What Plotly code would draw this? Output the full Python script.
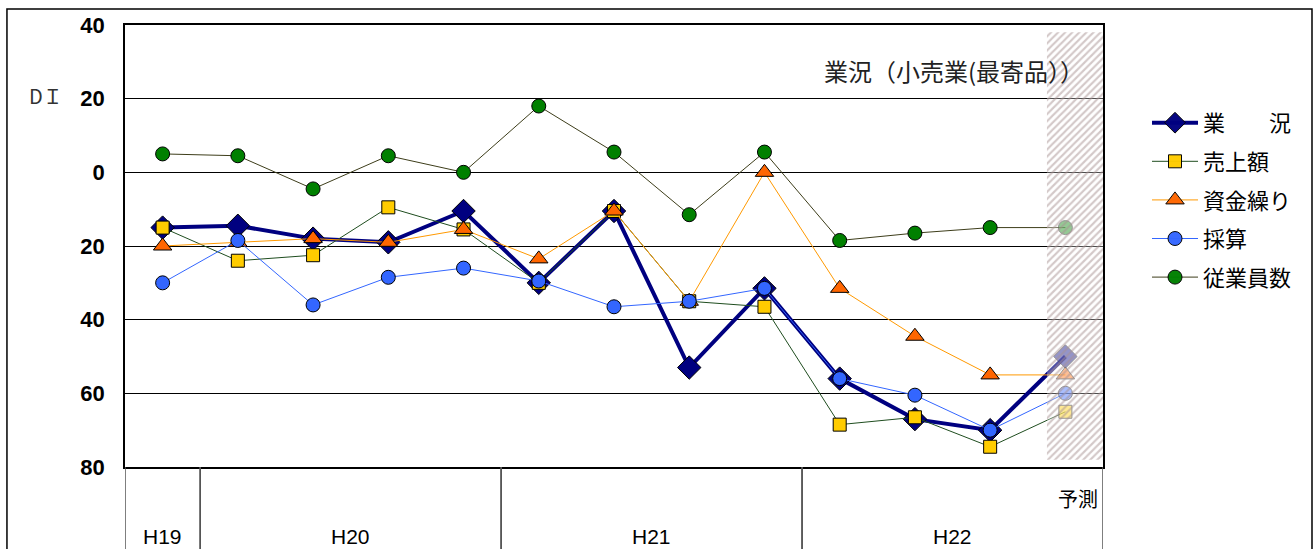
import plotly.graph_objects as go

# ---- data ----
quarters = ["H19-4", "H20-1", "H20-2", "H20-3", "H20-4", "H21-1", "H21-2", "H21-3", "H21-4",
            "H22-1", "H22-2", "H22-3", "予測"]
years = ["H19", "H20", "H21", "H22"]
year_spans = [(0, 0), (1, 4), (5, 8), (9, 12)]

gyokyo = [-15, -14.5, -18, -19, -10.5, -30, -10.5, -53, -31.5, -56, -67, -70, -50]
uriage = [-15, -24, -22.5, -9.5, -15.5, -30, -10.5, -35, -36.5, -68.5, -66.5, -74.5, -65]
shikin = [-20, -19, -18, -19, -15.5, -23.5, -10.5, -35, 0, -31.5, -44.5, -55, -55]
saisan = [-30, -18.5, -36, -28.5, -26, -29.5, -36.5, -35, -31.5, -56, -60.5, -70, -60]
jugyoin = [5, 4.5, -4.5, 4.5, 0, 18, 5.5, -11.5, 5.5, -18.5, -16.5, -15, -15]

tick_vals = [40, 20, 0, -20, -40, -60, -80]
tick_text = ["40", "20", "0", "20", "40", "60", "80"]

series = [
    ("業　　況", gyokyo, "#000080", 4, "diamond", "#000080", 18),
    ("売上額", uriage, "#1f4d1f", 1, "square", "#FFCC00", 13),
    ("資金繰り", shikin, "#FF9900", 1, "triangle-up", "#FF6600", 16),
    ("採算", saisan, "#3366FF", 1, "circle", "#3366FF", 14),
    ("従業員数", jugyoin, "#3d3d1a", 1, "circle", "#008000", 14),
]

fig = go.Figure()
n = len(quarters)
for name, vals, lc, lw, sym, mc, ms in series:
    fig.add_trace(go.Scatter(
        x=quarters, y=vals, name=name, mode="lines+markers",
        line=dict(color=lc, width=lw),
        marker=dict(symbol=sym, color=mc, size=ms,
                    opacity=[1] * (n - 1) + [0.6],
                    line=dict(color="black", width=1)),
        legendgroup=name,
    ))

# forecast hatched band (overlay axis so it is drawn over the lines)
fig.add_trace(go.Bar(
    x=[quarters[-1]], y=[116], base=[-78], width=0.75, offset=-0.245,
    xaxis="x2", yaxis="y2", showlegend=False, hoverinfo="skip",
    marker=dict(color="rgba(255,255,255,0.3)", line=dict(width=0),
                pattern=dict(shape="/", fgcolor="#a89292", bgcolor="rgba(255,255,255,0.3)",
                             size=5, solidity=0.42, fillmode="overlay")),
))

yr = [-80, 40]
fig.update_layout(
    width=1315, height=549,
    margin=dict(l=125, r=212, t=25, b=82),
    paper_bgcolor="white", plot_bgcolor="white",
    font=dict(family="Noto Sans CJK JP, Liberation Sans", color="black"),
    showlegend=True,
    legend=dict(x=1.045, y=0.826, xanchor="left", yanchor="top", itemwidth=46,
                font=dict(size=22, family="Noto Sans CJK JP"),
                tracegroupgap=7, bgcolor="rgba(0,0,0,0)"),
    xaxis=dict(type="category", categoryorder="array", categoryarray=quarters,
               range=[-0.5, n - 0.5], showticklabels=False, ticks="",
               showgrid=False, showline=True, linecolor="black", linewidth=1.5, mirror=True,
               zeroline=False),
    yaxis=dict(range=yr, tickvals=tick_vals, ticktext=tick_text, ticks="", ticklen=0,
               tickfont=dict(family="Liberation Sans", size=22, weight="bold"),
               ticklabelstandoff=14,
               showgrid=True, gridcolor="black", gridwidth=1, zeroline=False,
               showline=True, linecolor="black", linewidth=1.5, mirror=True),
    xaxis2=dict(type="category", categoryorder="array", categoryarray=quarters,
                range=[-0.5, n - 0.5], overlaying="x", visible=False, matches="x"),
    yaxis2=dict(range=yr, overlaying="y", visible=False, matches="y"),
    barmode="overlay",
)

# year group labels and dividers below the plot
for yname, (a, b) in zip(years, year_spans):
    fig.add_annotation(x=(a + b) / 2, y=-0.158, xref="x", yref="paper",
                       text=yname, showarrow=False, yanchor="middle",
                       font=dict(family="Liberation Sans", size=21))
for a, b in year_spans:
    for edge in (a - 0.5, b + 0.5):
        fig.add_shape(type="line", xref="x", yref="paper", x0=edge, x1=edge,
                      y0=0, y1=-0.3, line=dict(color="#555", width=1.5))

fig.add_annotation(x=quarters[-1], y=-0.072, xref="x", yref="paper",
                   text="予測", showarrow=False, xshift=13, yanchor="middle",
                   font=dict(size=20, family="Noto Sans CJK JP"))

# title inside plot
fig.add_annotation(x=1.0, y=0.898, xref="paper", yref="paper", xanchor="right", xshift=-17,
                   yanchor="middle", text="業況（小売業(最寄品））", showarrow=False,
                   font=dict(size=24, family="Noto Sans CJK JP", color="#222"))
# DI label
fig.add_annotation(x=-0.1, y=0.84, xref="paper", yref="paper", text="DＩ",
                   showarrow=False, yanchor="middle",
                   font=dict(size=20, family="Noto Sans CJK JP", color="#333"))

# outer frame
fig.add_shape(type="rect", xref="paper", yref="paper", x0=-0.1207, x1=1.2137,
              y0=-0.3, y1=1.0362, line=dict(color="black", width=1.5), layer="below")

fig.write_html("out.html", post_script="document.body.style.margin='0';",
               config={"displayModeBar": False})
